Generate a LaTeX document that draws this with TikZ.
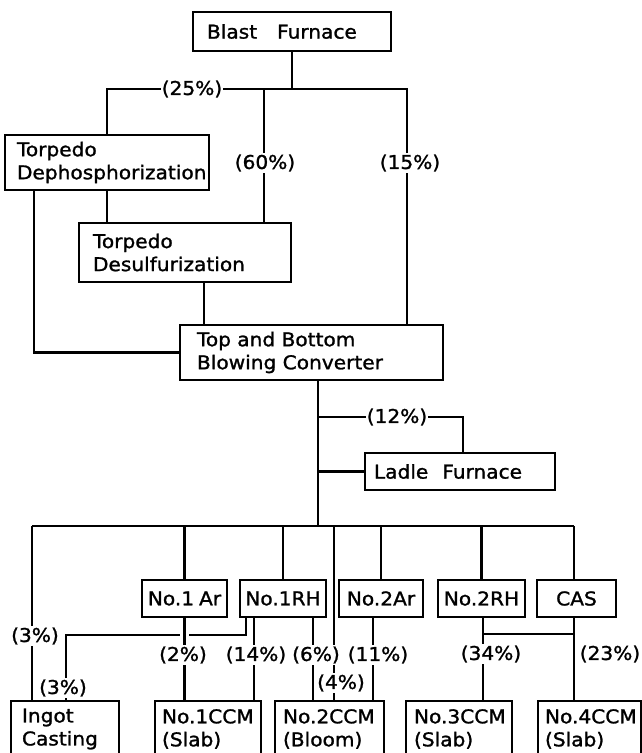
\documentclass[tikz,border=0pt]{standalone}
\usepackage{fontspec}
\setmainfont{DejaVu Sans}[FakeStretch=1.06,FakeBold=1.3]
\newcommand\dfont{\fontsize{19}{23}\selectfont\spaceskip=11pt plus 2pt minus 1pt\relax}
\begin{document}
\begin{tikzpicture}[x=1pt,y=-1pt,line width=2.2pt,
  box/.style={draw,line width=2.2pt,anchor=north west,outer sep=0pt,inner ysep=0pt,align=left,font=\dfont},
  cbox/.style={box,align=center,inner xsep=1pt,minimum height=37pt},
  lbl/.style={fill=white,inner xsep=0.3pt,inner ysep=1.5pt,font=\dfont},
  cover/.style={draw=white,line width=9pt}]
\useasboundingbox (0,0) rectangle (642,753);
\clip (0,0) rectangle (642,753);
% boxes
\node[box,text width=170pt,inner xsep=14pt,minimum height=39pt] (bf) at (193,12) {Blast\hspace{20pt}Furnace};
\node[box,text width=180pt,inner xsep=12pt,minimum height=55pt] (td) at (5,135) {Torpedo\\Dephosphorization};
\node[box,text width=184pt,inner xsep=14pt,minimum height=59pt] (tds) at (79,223) {Torpedo\\Desulfurization};
\node[box,text width=229pt,inner xsep=17pt,minimum height=55pt] (tbbc) at (180,325) {Top and Bottom\\Blowing Converter};
\node[box,text width=172pt,inner xsep=9pt,minimum height=37pt] (lf) at (365,453) {Ladle\hspace{14pt}Furnace};
\node[cbox,text width=83pt] (na1) at (142,580) {No.1\hspace{5pt}Ar};
\node[cbox,text width=84pt] (nr1) at (240,580) {No.1RH};
\node[cbox,text width=82pt] (na2) at (339,580) {No.2Ar};
\node[cbox,text width=85pt] (nr2) at (438,580) {No.2RH};
\node[cbox,text width=77pt] (cas) at (537,580) {CAS};
\node[box,text width=86pt,inner xsep=11pt,minimum height=56pt] (ingot) at (11,701) {Ingot\\Casting};
\node[box,text width=92pt,inner xsep=7pt,minimum height=56pt] (ccm1) at (155,701) {No.1CCM\\(Slab)};
\node[box,text width=93pt,inner xsep=8pt,minimum height=56pt] (ccm2) at (275,701) {No.2CCM\\(Bloom)};
\node[box,text width=90pt,inner xsep=8pt,minimum height=56pt] (ccm3) at (406,701) {No.3CCM\\(Slab)};
\node[box,text width=89pt,inner xsep=7pt,minimum height=56pt] (ccm4) at (538,701) {No.4CCM\\(Slab)};
% column / junction coordinates
\coordinate (J1) at (bf.south |- 0,89);
\coordinate (B) at (407,89);
\coordinate (C60) at (264,89);
\coordinate (X34) at (34,0);
\coordinate (X204) at (204,0);
\coordinate (X318) at (318,0);
\coordinate (bus) at (318,526);
\coordinate (K) at (318,417);
\coordinate (X463) at (463,0);
\coordinate (busL) at (32,526);
\coordinate (busR) at (574,526);
\coordinate (X334) at (334,0);
\coordinate (X246) at (246,0);
\coordinate (H) at (66,635);
\coordinate (X254) at (254,0);
\coordinate (X313) at (313,0);
\coordinate (X373) at (373,0);
\coordinate (X483) at (483,0);
\coordinate (X574) at (574,0);
\coordinate (M) at (483,634);
% connectors
\draw (bf.south) -- (J1);
\draw (td.north) |- (B) -- (B |- tbbc.north);
\draw (C60) -- (C60 |- tds.north);
\draw (td.south -| X34) |- (tbbc.west);
\draw (td.south) -- (tds.north -| td.south);
\draw (tds.south -| X204) -- (tbbc.north -| X204);
\draw (tbbc.south -| X318) -- (bus);
\draw (K) -| (lf.north -| X463);
\draw (lf.west -| X318) -- (lf.west);
\draw (busL) -- (busR);
\draw (busL) -- (ingot.north -| busL);
\draw (na1.north |- bus) -- (na1.north);
\draw (nr1.north |- bus) -- (nr1.north);
\draw (X334 |- bus) -- (ccm2.north -| X334);
\draw (na2.north |- bus) -- (na2.north);
\draw (nr2.north |- bus) -- (nr2.north);
\draw (busR) -- (cas.north -| X574);
\draw (nr1.south -| X246) |- (H) -- (ingot.north -| H);
\draw[cover] (na1.south |- 0,630) -- (na1.south |- 0,640);
\draw (na1.south) -- (ccm1.north -| na1.south);
\draw (nr1.south -| X254) -- (ccm1.north -| X254);
\draw (nr1.south -| X313) -- (ccm2.north -| X313);
\draw (na2.south -| X373) -- (ccm2.north -| X373);
\draw (nr2.south -| X483) -- (ccm3.north -| X483);
\draw (cas.south -| X574) -- (ccm4.north -| X574);
\draw (M) -- (M -| X574);
% labels
\node[lbl] (p25) at (192,89) {(25\%)};
\node[lbl] (p60) at (265,163) {(60\%)};
\node[lbl] (p15) at (410,163) {(15\%)};
\node[lbl] (p12) at (397,417) {(12\%)};
\node[lbl] (p3a) at (35,636) {(3\%)};
\node[lbl] (p3b) at (63,688) {(3\%)};
\node[lbl] (p2) at (183,655) {(2\%)};
\node[lbl] (p14) at (256,655) {(14\%)};
\node[lbl] (p6) at (316,655) {(6\%)};
\node[lbl] (p4) at (341,683) {(4\%)};
\node[lbl] (p11) at (378,655) {(11\%)};
\node[lbl] (p34) at (491,654) {(34\%)};
\node[lbl] (p23) at (610,654) {(23\%)};
\end{tikzpicture}
\end{document}
